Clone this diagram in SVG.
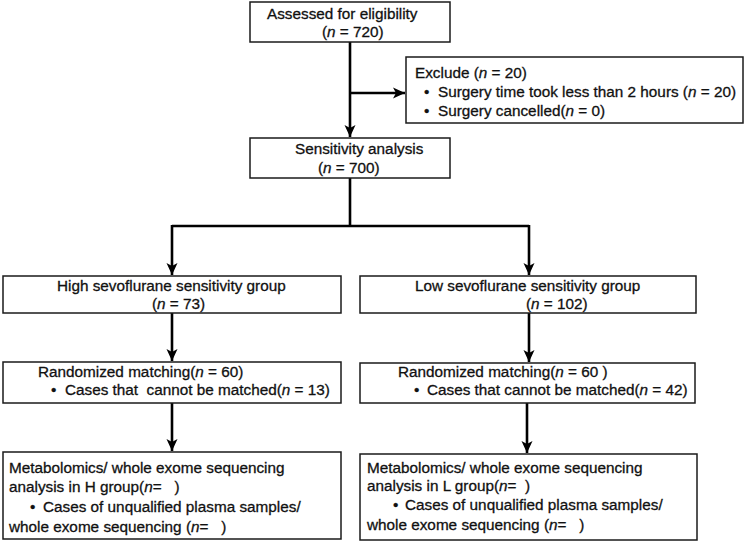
<svg xmlns="http://www.w3.org/2000/svg" width="747" height="542" viewBox="0 0 747 542">
<style>
.box{fill:#fff;stroke:#1a1a1a;stroke-width:1.5}
.t{font-family:"Liberation Sans",Arial,sans-serif;font-size:15.3px;fill:#111;stroke:#111;stroke-width:0.3}
.i{font-style:italic}
.c{fill:none;stroke:#000;stroke-width:2.6}
</style>
<defs>
<marker id="ah" markerUnits="userSpaceOnUse" markerWidth="14" markerHeight="14" refX="12" refY="7" orient="auto" viewBox="0 0 14 14">
<path d="M0,1.5 L12,7 L0,12.5 L3,7 z" fill="#000"/>
</marker>
</defs>
<rect width="747" height="542" fill="#fff"/>
<g id="connectors">
<line class="c" x1="350" y1="42" x2="350" y2="137" marker-end="url(#ah)"/>
<line class="c" x1="350" y1="93" x2="405" y2="93" marker-end="url(#ah)"/>
<polyline class="c" points="350,178 350,226"/>
<polyline class="c" points="172,226 529,226"/>
<line class="c" x1="172" y1="225" x2="172" y2="275" marker-end="url(#ah)"/>
<line class="c" x1="529" y1="225" x2="529" y2="275" marker-end="url(#ah)"/>
<line class="c" x1="172" y1="313" x2="172" y2="361" marker-end="url(#ah)"/>
<line class="c" x1="529" y1="313" x2="529" y2="362" marker-end="url(#ah)"/>
<line class="c" x1="172" y1="403" x2="172" y2="451" marker-end="url(#ah)"/>
<line class="c" x1="527" y1="403" x2="527" y2="453" marker-end="url(#ah)"/>
</g>
<g id="assessed">
<rect class="box" x="250" y="2" width="200" height="40"/>
<text class="t" x="267" y="19">Assessed for eligibility</text>
<text class="t" x="322" y="37">(<tspan class="i">n</tspan> = 720)</text>
</g>
<g id="exclude">
<rect class="box" x="406" y="57" width="337" height="66"/>
<text class="t" x="415" y="78">Exclude (<tspan class="i">n</tspan> = 20)</text>
<text class="t" x="424" y="97">•</text>
<text class="t" x="438" y="97">Surgery time took less than 2 hours (<tspan class="i">n</tspan> = 20)</text>
<text class="t" x="424" y="116">•</text>
<text class="t" x="438" y="116">Surgery cancelled(<tspan class="i">n</tspan> = 0)</text>
</g>
<g id="sensitivity">
<rect class="box" x="250" y="138" width="200" height="40"/>
<text class="t" x="295" y="154">Sensitivity analysis</text>
<text class="t" x="318" y="173">(<tspan class="i">n</tspan> = 700)</text>
</g>
<g id="high">
<rect class="box" x="3" y="276" width="338" height="37"/>
<text class="t" x="57" y="291">High sevoflurane sensitivity group</text>
<text class="t" x="152" y="309">(<tspan class="i">n</tspan> = 73)</text>
</g>
<g id="low">
<rect class="box" x="360" y="276" width="336" height="37"/>
<text class="t" x="415" y="291">Low sevoflurane sensitivity group</text>
<text class="t" x="526" y="309">(<tspan class="i">n</tspan> = 102)</text>
</g>
<g id="rand-h">
<rect class="box" x="3" y="362" width="338" height="41"/>
<text class="t" x="38" y="377">Randomized matching(<tspan class="i">n</tspan> = 60)</text>
<text class="t" x="51" y="395">•</text>
<text class="t" x="65" y="395">Cases that&#160; cannot be matched(<tspan class="i">n</tspan> = 13)</text>
</g>
<g id="rand-l">
<rect class="box" x="360" y="363" width="335" height="40"/>
<text class="t" x="398" y="377">Randomized matching(<tspan class="i">n</tspan> = 60 )</text>
<text class="t" x="414" y="395">•</text>
<text class="t" x="427" y="395">Cases that cannot be matched(<tspan class="i">n</tspan> = 42)</text>
</g>
<g id="meta-h">
<rect class="box" x="3" y="452" width="338" height="87"/>
<text class="t" x="9" y="473">Metabolomics/ whole exome sequencing</text>
<text class="t" x="9" y="492">analysis in H group(<tspan class="i">n</tspan>=&#160;&#160;&#160;)</text>
<text class="t" x="30" y="512">•</text>
<text class="t" x="43" y="512">Cases of unqualified plasma samples/</text>
<text class="t" x="9" y="532">whole exome sequencing (<tspan class="i">n</tspan>=&#160;&#160;&#160;)</text>
</g>
<g id="meta-l">
<rect class="box" x="360" y="454" width="337" height="86"/>
<text class="t" x="367" y="473">Metabolomics/ whole exome sequencing</text>
<text class="t" x="367" y="491">analysis in L group(<tspan class="i">n</tspan>=&#160;&#160;)</text>
<text class="t" x="393" y="510">•</text>
<text class="t" x="405" y="510">Cases of unqualified plasma samples/</text>
<text class="t" x="367" y="530">whole exome sequencing (<tspan class="i">n</tspan>=&#160;&#160;&#160;)</text>
</g>
</svg>
